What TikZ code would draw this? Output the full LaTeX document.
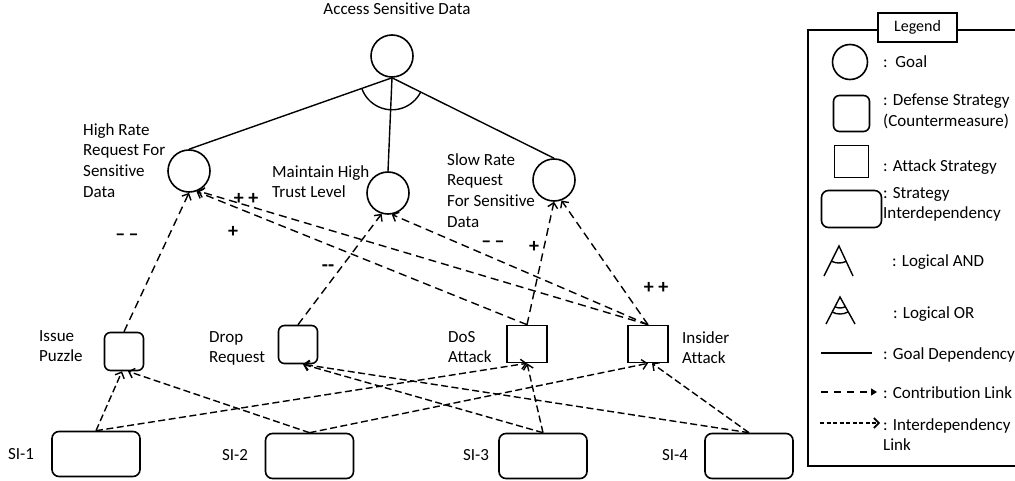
\documentclass[tikz,border=0pt]{standalone}
\usepackage{fontspec}
\setmainfont{Carlito}[Ligatures=NoCommon]
\usetikzlibrary{arrows.meta}

\tikzset{
  txt/.style={font=\fontsize{17}{20.7}\selectfont, inner sep=0pt, align=left},
  sign/.style={font=\bfseries\fontsize{20}{22}\selectfont, inner sep=0pt},
  shp/.style={draw, line width=1.6pt, inner sep=0pt},
  goal/.style={shp, circle, minimum size=42pt},
  defense/.style={shp, rectangle, rounded corners=6pt, minimum width=39pt, minimum height=38pt},
  attack/.style={shp, rectangle, minimum width=40pt, minimum height=37pt},
  interdep/.style={shp, rectangle, rounded corners=7pt, minimum width=88pt, minimum height=45pt},
  goaldep/.style={line width=1.4pt},
  contrib/.style={line width=1.4pt, dash pattern=on 8pt off 5pt,
    -{Straight Barb[length=5pt,width=10pt,line width=1.4pt]}},
  idep/.style={line width=1.4pt, dash pattern=on 7pt off 3.5pt,
    -{Straight Barb[length=5pt,width=10pt,line width=1.4pt]}},
}

\begin{document}
\begin{tikzpicture}[x=1pt, y=-1pt]
\useasboundingbox (0,0) rectangle (1015,481);

% ---------- goals ----------
\node[goal] (root) at (392,56) {};
\node[goal] (hr)   at (189,171) {};
\node[goal] (mh)   at (388,193) {};
\node[goal] (sr)   at (554,180) {};

\node[txt, anchor=base] (t-root) at (397,15) {Access Sensitive Data};
\node[txt, anchor=north west] (t-hr) at (83,123) {High Rate\\Request For\\Sensitive\\Data};
\node[txt, anchor=north west] (t-mh) at (272,165) {Maintain High\\Trust Level};
\node[txt, anchor=north west] (t-sr) at (447,153) {Slow Rate\\Request\\For Sensitive\\Data};

% ---------- strategies ----------
\node[defense] (ip)  at (124,351.5) {};
\node[defense] (dr)  at (298,344.5) {};
\node[attack]  (dos) at (527,344) {};
\node[attack]  (ins) at (648,344) {};

\node[txt, anchor=north west] (t-ip)  at (39,330)  {Issue\\Puzzle};
\node[txt, anchor=north west] (t-dr)  at (209,331) {Drop\\Request};
\node[txt, anchor=north west] (t-dos) at (448,331) {DoS\\Attack};
\node[txt, anchor=north west] (t-ins) at (682,331) {Insider\\Attack};

% ---------- strategy interdependencies ----------
\node[interdep] (si1) at (96,454) {};
\node[interdep] (si2) at (309.5,456) {};
\node[interdep] (si3) at (543,456) {};
\node[interdep] (si4) at (749,456) {};

\node[txt, anchor=base] (t-si1) at (21,459)  {SI-1};
\node[txt, anchor=base] (t-si2) at (235,460) {SI-2};
\node[txt, anchor=base] (t-si3) at (476,460) {SI-3};
\node[txt, anchor=base] (t-si4) at (675,460) {SI-4};

% ---------- goal decomposition (AND) ----------
\draw[goaldep] (root.south) -- (hr.north);
\draw[goaldep] (root.south) -- (mh.north);
\draw[goaldep] (root.south) -- (sr.north);
\draw[goaldep] ([shift={(199.3:32pt)}]root.south) arc[start angle=199.3, end angle=333.7, radius=32pt];

% ---------- contribution links ----------
\draw[contrib] (ip.north)  -- (hr.south);
\draw[contrib] (dr.north)  -- (mh.-107);
\draw[contrib] (dos.north) -- (hr.-70);
\draw[contrib] (ins.north) -- (hr.-66);
\draw[contrib] (dos.north) -- (sr.south);
\draw[contrib] (ins.north) -- (mh.-80);
\draw[contrib] (ins.north) -- (sr.-70);

\node[sign] (c1) at (127,237) {–\,–};
\node[sign] (c2) at (328,268) {-{}-};
\node[sign] (c3) at (233,232) {+};
\node[sign] (c4) at (246,199) {+\ +};
\node[sign] (c5) at (493,244) {–\,–};
\node[sign] (c6) at (534,247) {+};
\node[sign] (c7) at (656,288) {+\ +};

% ---------- interdependency links ----------
\draw[idep] (si1.north) -- ([xshift=-2pt]ip.south);
\draw[idep] (si2.north) -- ([xshift=4pt]ip.south);
\draw[idep] (si1.north) -- (dos.south);
\draw[idep] (si2.north) -- (ins.south);
\draw[idep] (si3.north) -- ([xshift=5pt]dr.south);
\draw[idep] (si4.north) -- ([xshift=5pt]dr.south);
\draw[idep] (si3.north) -- (dos.south);
\draw[idep] (si4.north) -- ([xshift=4pt]ins.south);

% ---------- legend ----------
\draw[line width=1.6pt] (1017,30) -- (808,30) -- (808,466) -- (1017,466);
\node[draw, fill=white, line width=1.4pt, minimum width=79pt, minimum height=29pt, inner sep=0pt,
      font=\fontsize{16}{19}\selectfont] (lg-title) at (917.5,27.5) {Legend};

\node[goal, minimum size=35pt] (lg-goal) at (850,62) {};
\node[txt, anchor=base west] (lt-goal) at (883,68) {:\ \ Goal};

\node[defense, minimum width=36pt, minimum height=36pt] (lg-def) at (851.5,113.5) {};
\node[txt, anchor=north west] (lt-def) at (883,94) {: Defense Strategy\\(Countermeasure)};

\node[attack, minimum width=34pt, minimum height=32pt] (lg-att) at (851.5,161.5) {};
\node[txt, anchor=base west] (lt-att) at (883,172) {: Attack Strategy};

\node[interdep, minimum width=60pt, minimum height=37pt] (lg-si) at (851.5,209) {};
\node[txt, anchor=north west] (lt-si) at (883,187) {: Strategy\\Interdependency};

% logical AND glyph
\coordinate (and-apex) at (839,246);
\draw[line width=1.4pt] (824,276) -- (and-apex) -- (853,276);
\draw[line width=1.4pt] ([shift={(243.4:17pt)}]and-apex) arc[start angle=243.4, end angle=295, radius=17pt];
\node[txt, anchor=base west] (lt-and) at (892,267) {: Logical AND};

% logical OR glyph
\coordinate (or-apex) at (840,297);
\draw[line width=1.4pt] (826,324) -- (or-apex) -- (855,324);
\draw[line width=1.4pt] ([shift={(242.6:11pt)}]or-apex) arc[start angle=242.6, end angle=299, radius=11pt];
\draw[line width=1.4pt] ([shift={(242.6:17pt)}]or-apex) arc[start angle=242.6, end angle=299, radius=17pt];
\node[txt, anchor=base west] (lt-or) at (893,318) {: Logical OR};

% link samples
\coordinate (gd-a) at (821,353);
\coordinate (gd-b) at (872,353);
\draw[goaldep] (gd-a) -- (gd-b);
\node[txt, anchor=base west] (lt-gd) at (883,359) {: Goal Dependency};

\coordinate (cl-a) at (821,392);
\coordinate (cl-b) at (877,392);
\draw[line width=1.4pt, dash pattern=on 7pt off 6pt, -{Triangle[length=6pt,width=7pt]}] (cl-a) -- (cl-b);
\node[txt, anchor=base west] (lt-cl) at (883,398) {: Contribution Link};

\coordinate (il-a) at (820,423);
\coordinate (il-b) at (880,423);
\draw[line width=1.4pt, dash pattern=on 4pt off 2.5pt,
      -{Straight Barb[length=5pt,width=10pt,line width=1.6pt]}] (il-a) -- (il-b);
\node[txt, anchor=north west] (lt-il) at (883,418) {: Interdependency\\Link};

\end{tikzpicture}
\end{document}
